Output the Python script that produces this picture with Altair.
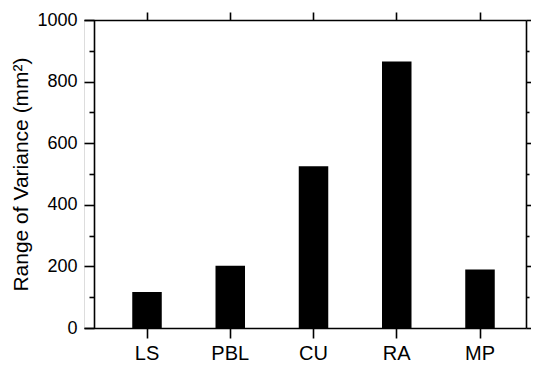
import altair as alt
import pandas as pd

categories = ["LS", "PBL", "CU", "RA", "MP"]
values = [117, 202, 525, 865, 190]
y_major = [0, 200, 400, 600, 800, 1000]
y_minor = [100, 300, 500, 700, 900]

df = pd.DataFrame({"scheme": categories, "variance": values})

FONT = "Liberation Sans"
common = dict(grid=False, domainColor="black", tickColor="black", labelColor="black",
              titleColor="black", labelFont=FONT, titleFont=FONT,
              domainWidth=1.6, tickWidth=1.6)

xscale = alt.Scale(domain=categories, paddingInner=0.6456, paddingOuter=0.4775, align=0.607)
yscale = alt.Scale(domain=[0, 1000], nice=False, zero=True)

base = alt.Chart(df)

main = base.mark_bar(color="black").encode(
    x=alt.X("scheme:N", scale=xscale, sort=categories,
            axis=alt.Axis(orient="bottom", title=None, labelAngle=0, tickSize=10,
                          labelFontSize=20, labelPadding=5, **common)),
    y=alt.Y("variance:Q", scale=yscale,
            axis=alt.Axis(orient="left", offset=-10, values=y_major, tickSize=10,
                          format="d", labelFontSize=18, labelPadding=7,
                          title="Range of Variance (mm²)", titleFontSize=21,
                          titleFontWeight="normal", titlePadding=5, **common)),
)

layer2 = base.mark_bar(opacity=0).encode(
    x=alt.X("scheme:N", scale=xscale, sort=categories,
            axis=alt.Axis(orient="top", title=None, labels=False, tickSize=8, **common)),
    y=alt.Y("variance:Q", scale=yscale,
            axis=alt.Axis(orient="left", offset=-10, values=y_minor, tickSize=5,
                          labels=False, domain=False, title=None, **common)),
)

layer3 = base.mark_bar(opacity=0).encode(
    x=alt.X("scheme:N", scale=xscale, sort=categories, axis=None),
    y=alt.Y("variance:Q", scale=yscale,
            axis=alt.Axis(orient="right", values=y_major, tickSize=10,
                          labels=False, title=None, **common)),
)

layer4 = base.mark_bar(opacity=0).encode(
    x=alt.X("scheme:N", scale=xscale, sort=categories, axis=None),
    y=alt.Y("variance:Q", scale=yscale,
            axis=alt.Axis(orient="right", values=y_minor, tickSize=3,
                          labels=False, domain=False, title=None, **common)),
)

chart = alt.layer(main, layer2, layer3, layer4).resolve_axis(
    x="independent", y="independent"
).properties(
    width=442, height=308,
    padding={"left": 76, "top": 12, "right": 5, "bottom": 35},
    autosize=alt.AutoSizeParams(type="none"),
).configure_view(stroke=None).configure(background="white")

chart.save("out.html", embed_options={"renderer": "svg", "actions": False})
